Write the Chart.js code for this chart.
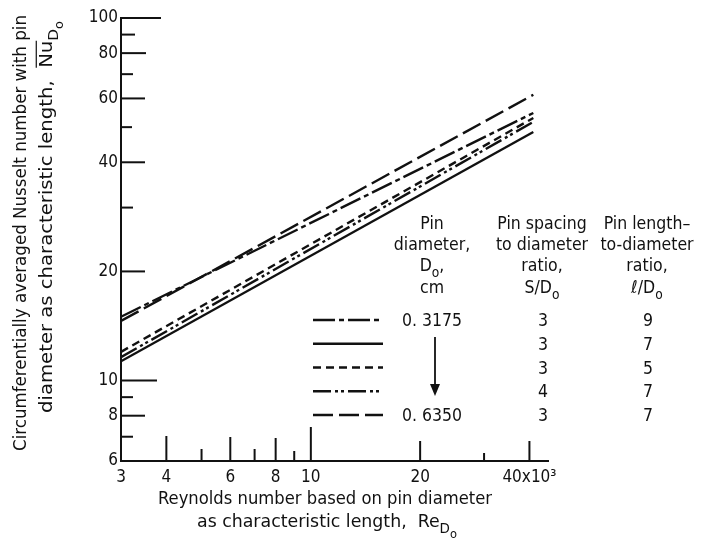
<!DOCTYPE html>
<html>
<head>
<meta charset="utf-8">
<title>Nusselt number vs Reynolds number</title>
<script src="https://cdn.jsdelivr.net/npm/chart.js@4.4.1/dist/chart.umd.min.js"></script>
<style>
  html, body { margin: 0; padding: 0; background: #fff; }
  #wrap { width: 707px; height: 553px; position: relative; }
</style>
</head>
<body>
<div id="wrap"><canvas id="nusseltChart"></canvas></div>
<script>
// Reynolds number (x10^3) at the two ends of each correlation line
const reynolds = [3, 41];

// Circumferentially averaged Nusselt number at those ends
const nuDashDot = [15.0, 54.7];     // 0.3175 cm, S/D 3, l/D 9
const nuSolid = [11.3, 48.5];       // S/D 3, l/D 7
const nuDashed = [12.0, 53.0];      // S/D 3, l/D 5
const nuDashDotDot = [11.6, 51.7];  // S/D 4, l/D 7
const nuLongDash = [14.6, 61.4];    // 0.6350 cm, S/D 3, l/D 7

const xTicks = [3, 4, 6, 8, 10, 20, 40];
const xTickLabels = ['3', '4', '6', '8', '10', '20', '40x10³'];
const yTicks = [6, 8, 10, 20, 40, 60, 80, 100];

// legend table columns
const pinDiameters = ['0. 3175', '', '', '', '0. 6350'];
const spacingRatios = ['3', '3', '3', '4', '3'];
const lengthRatios = ['9', '7', '5', '7', '7'];

const FONT = '"DejaVu Sans Condensed", "Liberation Sans Narrow", "DejaVu Sans", sans-serif';
const INK = '#111';

const series = [
  { values: nuDashDot, dash: [22, 4, 5, 4] },
  { values: nuSolid, dash: [] },
  { values: nuDashed, dash: [8, 5] },
  { values: nuDashDotDot, dash: [18, 4, 3, 3, 3, 4] },
  { values: nuLongDash, dash: [20, 6] }
];

const datasets = series.map(s => ({
  data: reynolds.map((re, i) => ({ x: re, y: s.values[i] })),
  showLine: true,
  borderColor: INK,
  borderWidth: 2.4,
  borderDash: s.dash,
  pointRadius: 0,
  fill: false
}));

// text with subscripts / overline: parts = [text, level, overline]
// fitWidth (optional) stretches the run horizontally to that width
function drawRich(ctx, parts, x, y, size, fitWidth) {
  const sizes = [size, size * 0.78, size * 0.66];
  const drops = [0, size * 0.32, size * 0.6];
  let total = 0;
  parts.forEach(p => {
    ctx.font = sizes[p[1] || 0] + 'px ' + FONT;
    total += ctx.measureText(p[0]).width;
  });
  ctx.save();
  ctx.translate(x, y);
  if (fitWidth) ctx.scale(fitWidth / total, 1);
  let cx = -total / 2;
  parts.forEach(p => {
    const lvl = p[1] || 0;
    ctx.font = sizes[lvl] + 'px ' + FONT;
    const w = ctx.measureText(p[0]).width;
    ctx.fillText(p[0], cx, drops[lvl]);
    if (p[2]) {
      ctx.beginPath();
      ctx.lineWidth = 1.2;
      ctx.moveTo(cx, -size * 0.85);
      ctx.lineTo(cx + w, -size * 0.85);
      ctx.stroke();
    }
    cx += w;
  });
  ctx.restore();
}

const decor = {
  id: 'decor',
  afterDraw(chart, args, opts) {
    const { ctx, scales: { x, y } } = chart;
    ctx.save();
    ctx.strokeStyle = INK;
    ctx.fillStyle = INK;
    ctx.textAlign = 'left';
    ctx.textBaseline = 'alphabetic';
    ctx.setLineDash([]);

    // inward tick marks
    ctx.lineWidth = 2;
    opts.yMarks.forEach(([v, len]) => {
      const py = y.getPixelForValue(v);
      ctx.beginPath(); ctx.moveTo(x.left, py); ctx.lineTo(x.left + len, py); ctx.stroke();
    });
    opts.xMarks.forEach(([v, len]) => {
      const px = x.getPixelForValue(v);
      ctx.beginPath(); ctx.moveTo(px, y.bottom); ctx.lineTo(px, y.bottom - len); ctx.stroke();
    });

    // y axis title (rotated)
    ctx.save();
    ctx.translate(20, 233);
    ctx.rotate(-Math.PI / 2);
    drawRich(ctx, [['Circumferentially averaged Nusselt number with pin']], 0, 6, 18.5, 436);
    ctx.restore();
    ctx.save();
    ctx.translate(46, 217);
    ctx.rotate(-Math.PI / 2);
    drawRich(ctx, [['diameter as characteristic length,  '], ['Nu', 0, true], ['D', 1], ['o', 2]], 0, 6, 18.5, 392);
    ctx.restore();

    // x axis title
    drawRich(ctx, [['Reynolds number based on pin diameter']], 325, 504, 18, 334);
    drawRich(ctx, [['as characteristic length,  Re'], ['D', 1], ['o', 2]], 327, 527, 18, 260);

    // legend table headers
    const fs = 17.5;
    const c1 = 432, c2 = 542, c3 = 647;
    const hy = [223, 244, 265, 287].map(v => v + 6);
    drawRich(ctx, [['Pin']], c1, hy[0], fs);
    drawRich(ctx, [['diameter,']], c1, hy[1], fs);
    drawRich(ctx, [['D'], ['o', 1], [',']], c1, hy[2], fs);
    drawRich(ctx, [['cm']], c1, hy[3], fs);
    drawRich(ctx, [['Pin spacing']], c2, hy[0], fs);
    drawRich(ctx, [['to diameter']], c2, hy[1], fs);
    drawRich(ctx, [['ratio,']], c2, hy[2], fs);
    drawRich(ctx, [['S/D'], ['o', 1]], c2, hy[3], fs);
    drawRich(ctx, [['Pin length–']], c3, hy[0], fs);
    drawRich(ctx, [['to-diameter']], c3, hy[1], fs);
    drawRich(ctx, [['ratio,']], c3, hy[2], fs);
    drawRich(ctx, [['ℓ/D'], ['o', 1]], c3, hy[3], fs);

    // legend rows: line sample + values
    const rowY = i => 320 + i * 23.75;
    series.forEach((s, i) => {
      const ry = rowY(i);
      ctx.lineWidth = 2.4;
      ctx.setLineDash(s.dash);
      ctx.beginPath(); ctx.moveTo(313, ry); ctx.lineTo(383, ry); ctx.stroke();
      ctx.setLineDash([]);
      if (pinDiameters[i]) drawRich(ctx, [[pinDiameters[i]]], c1, ry + 6, fs);
      drawRich(ctx, [[spacingRatios[i]]], c2 + 1, ry + 6, fs);
      drawRich(ctx, [[lengthRatios[i]]], c3 + 1, ry + 6, fs);
    });

    // arrow from first to last diameter
    ctx.lineWidth = 1.8;
    ctx.beginPath(); ctx.moveTo(435, 337); ctx.lineTo(435, 386); ctx.stroke();
    ctx.beginPath();
    ctx.moveTo(430, 384); ctx.lineTo(440, 384); ctx.lineTo(435, 396); ctx.closePath();
    ctx.fill();

    ctx.restore();
  }
};

new Chart(document.getElementById('nusseltChart'), {
  type: 'scatter',
  data: { datasets },
  plugins: [decor],
  options: {
    responsive: true,
    maintainAspectRatio: false,
    animation: false,
    layout: { padding: { left: 0, top: 18, right: 159, bottom: 0 } },
    scales: {
      x: {
        type: 'logarithmic',
        min: 3,
        max: 45,
        afterBuildTicks: s => { s.ticks = xTicks.map(v => ({ value: v })); },
        afterFit: s => { s.height = 92; },
        grid: { display: false, drawTicks: false },
        border: { display: true, color: INK, width: 2 },
        ticks: {
          autoSkip: false,
          maxRotation: 0,
          padding: 6,
          color: INK,
          font: { family: FONT, size: 17 },
          callback: v => xTickLabels[xTicks.indexOf(v)]
        }
      },
      y: {
        type: 'logarithmic',
        min: 6,
        max: 100,
        afterBuildTicks: s => { s.ticks = yTicks.map(v => ({ value: v })); },
        afterFit: s => { s.width = 121; },
        grid: { display: false, drawTicks: false },
        border: { display: true, color: INK, width: 2 },
        ticks: {
          autoSkip: false,
          padding: 3,
          color: INK,
          font: { family: FONT, size: 17 },
          callback: v => String(v)
        }
      }
    },
    plugins: {
      legend: { display: false },
      tooltip: { enabled: false },
      decor: {
        yMarks: [[100, 40], [90, 14], [80, 25], [70, 12], [60, 24], [50, 11], [40, 24],
                 [30, 12], [20, 24], [10, 36], [9, 12], [8, 24], [7, 12]],
        xMarks: [[4, 25], [5, 12], [6, 24], [7, 12], [8, 23], [9, 10], [10, 34],
                 [20, 20], [30, 8], [40, 20]]
      }
    }
  }
});
</script>
</body>
</html>
